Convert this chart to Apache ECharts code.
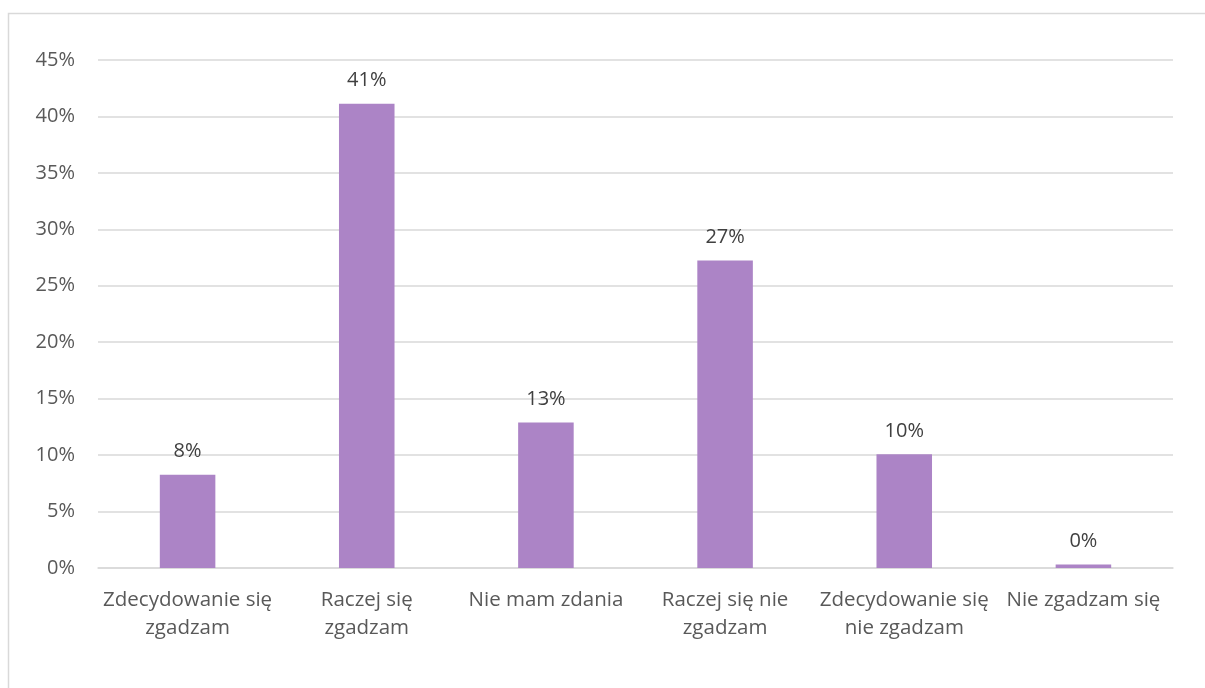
<!DOCTYPE html>
<html>
<head>
<meta charset="utf-8">
<script src="https://cdn.jsdelivr.net/npm/echarts@6/dist/echarts.min.js"></script>
<style>
html,body{margin:0;padding:0;background:#fff;}
#c{width:1205px;height:688px;}
</style>
</head>
<body>
<div id="c"></div>
<script>
const categories = [
  "Zdecydowanie się\nzgadzam",
  "Raczej się\nzgadzam",
  "Nie mam zdania",
  "Raczej się nie\nzgadzam",
  "Zdecydowanie się\nnie zgadzam",
  "Nie zgadzam się"
];
const values = [8.27, 41.13, 12.88, 27.25, 10.07, 0.3];
const labels = ["8%", "41%", "13%", "27%", "10%", "0%"];

const FONT = "'Open Sans', Lato, sans-serif";
const chart = echarts.init(document.getElementById('c'), null, {renderer: 'canvas'});
chart.setOption({
  animation: false,
  backgroundColor: '#ffffff',
  graphic: [{
    type: 'rect',
    shape: {x: 8.5, y: 13.5, width: 1220, height: 700},
    style: {fill: 'none', stroke: '#D9D9D9', lineWidth: 1.5},
    silent: true
  }],
  grid: {left: 98, right: 32, top: 60, bottom: 120, containLabel: false},
  xAxis: {
    type: 'category',
    data: categories,
    axisTick: {show: false},
    axisLine: {show: true, lineStyle: {color: '#D9D9D9', width: 1.5}},
    axisLabel: {
      color: '#595959', fontFamily: FONT, fontSize: 20.5,
      lineHeight: 28, margin: 18, interval: 0
    }
  },
  yAxis: {
    type: 'value',
    min: 0, max: 45, interval: 5,
    axisLine: {show: false},
    axisTick: {show: false},
    splitLine: {lineStyle: {color: '#D9D9D9', width: 1.5}},
    axisLabel: {
      color: '#595959', fontFamily: FONT, fontSize: 20, margin: 23,
      formatter: v => v + '%'
    }
  },
  series: [{
    type: 'bar',
    data: values,
    barWidth: '31%',
    itemStyle: {color: '#AC84C6'},
    label: {
      show: true, position: 'top', distance: 13,
      color: '#404040', fontFamily: FONT, fontSize: 20,
      formatter: p => labels[p.dataIndex]
    }
  }]
});
</script>
</body>
</html>
